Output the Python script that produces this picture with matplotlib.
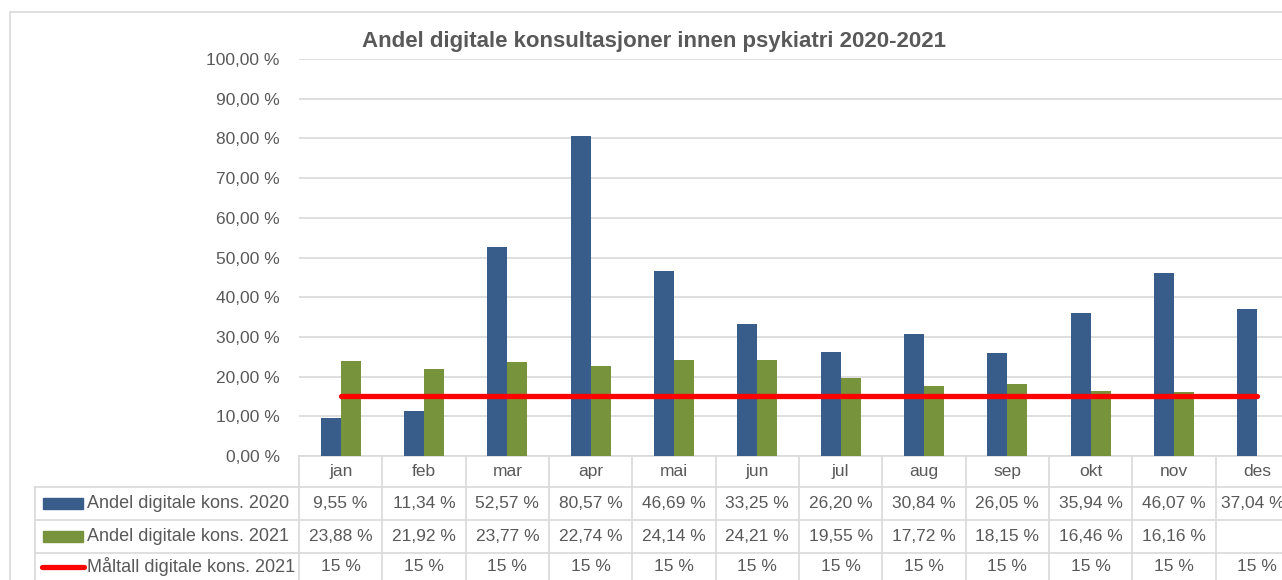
import matplotlib.pyplot as plt
from matplotlib.patches import Rectangle
from matplotlib.lines import Line2D

months = ['jan', 'feb', 'mar', 'apr', 'mai', 'jun', 'jul', 'aug', 'sep', 'okt', 'nov', 'des']
kons2020 = [9.55, 11.34, 52.57, 80.57, 46.69, 33.25, 26.20, 30.84, 26.05, 35.94, 46.07, 37.04]
kons2021 = [23.88, 21.92, 23.77, 22.74, 24.14, 24.21, 19.55, 17.72, 18.15, 16.46, 16.16, None]
maltall = [15] * 12
series_names = ['Andel digitale kons. 2020', 'Andel digitale kons. 2021', 'Måltall digitale kons. 2021']

blue = '#385D8A'
green = '#77933C'
red = '#FF0000'
grid = '#D9D9D9'
txt = '#595959'

plt.rcParams['font.family'] = ['Liberation Sans', 'DejaVu Sans']
fs = 12.5

W, H = 1282, 580
fig = plt.figure(figsize=(W / 100, H / 100), dpi=100)

# outer chart border
fig.add_artist(Rectangle((10 / W, -0.1), 1.2, (H - 12) / H + 0.1, transform=fig.transFigure,
                         fill=False, edgecolor=grid, lw=1.2))

left, right, bottom, top = 299, 1299, 456, 59
ax = fig.add_axes([left / W, 1 - bottom / H, (right - left) / W, (bottom - top) / H])

x = list(range(len(months)))
w = 0.24
ax.bar([i - w / 2 for i in x], kons2020, width=w, color=blue, zorder=3)
x21 = [i + w / 2 for i, v in zip(x, kons2021) if v is not None]
v21 = [v for v in kons2021 if v is not None]
ax.bar(x21, v21, width=w, color=green, zorder=3)
ax.plot(x, maltall, color=red, lw=3.8, zorder=4, solid_capstyle='round')

ax.set_xlim(-0.5, len(months) - 0.5)
ax.set_ylim(0, 100)
ax.set_yticks(range(0, 101, 10))
ax.set_yticklabels(['%d,00 %%' % t for t in range(0, 101, 10)], fontsize=fs, color=txt)
ax.tick_params(axis='y', length=0, pad=14)
ax.set_xticks([])
ax.grid(axis='y', color=grid, lw=1.2, zorder=0)
for s in ax.spines.values():
    s.set_visible(False)

fig.text(654 / W, 1 - 42 / H, 'Andel digitale konsultasjoner innen psykiatri 2020-2021', fontsize=16,
         fontweight='bold', color=txt, ha='center', va='center')

# data table below the axis
ph = bottom - top
def yf(py):
    return (bottom - py) / ph

rows_y = [456, 487, 520, 553, 580]
xt = ax.get_xaxis_transform()
lk = dict(color=grid, lw=1.2, clip_on=False, transform=xt)

# horizontal lines
ax.add_line(Line2D([-0.5, 11.5], [yf(456), yf(456)], **lk))
for py in rows_y[1:4]:
    ax.add_line(Line2D([-0.5 - (left - 35) / 83.3, 11.5], [yf(py), yf(py)], **lk))
# vertical lines
for i in range(13):
    ax.add_line(Line2D([i - 0.5, i - 0.5], [yf(456), yf(600)], **lk))
ax.add_line(Line2D([-0.5 - (left - 35) / 83.3] * 2, [yf(487), yf(600)], **lk))

cell_y = [(rows_y[k] + rows_y[k + 1]) / 2 for k in range(4)]
for i, m in enumerate(months):
    ax.text(i, yf(cell_y[0]), m, transform=xt, ha='center', va='center', fontsize=fs, color=txt)
    # last column is cut by the picture edge, keep its value just inside
    ax.text(i - 0.06 * (i == 11), yf(cell_y[1]), ('%.2f %%' % kons2020[i]).replace('.', ','),
            transform=xt, ha='center', va='center', fontsize=fs, color=txt)
    if kons2021[i] is not None:
        ax.text(i, yf(cell_y[2]), ('%.2f %%' % kons2021[i]).replace('.', ','), transform=xt,
                ha='center', va='center', fontsize=fs, color=txt)
    ax.text(i, yf(cell_y[3]), '%d %%' % maltall[i], transform=xt,
            ha='center', va='center', fontsize=fs, color=txt)

# row headers with legend keys (figure pixel coords)
for k, name in enumerate(series_names):
    cy = 1 - cell_y[k + 1] / H
    if k < 2:
        fig.add_artist(Rectangle((43 / W, cy - 5.5 / H), 40 / W, 11 / H,
                                 transform=fig.transFigure, color=[blue, green][k]))
    else:
        fig.add_artist(Line2D([42 / W, 84 / W], [cy, cy], transform=fig.transFigure,
                              color=red, lw=3.8, solid_capstyle='round'))
    fig.text(87 / W, cy, name, ha='left', va='center', fontsize=13, color=txt)

fig.savefig('out.png', dpi=100)
